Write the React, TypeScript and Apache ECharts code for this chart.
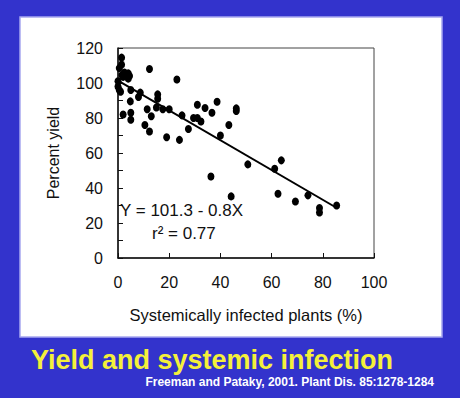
import React, { useEffect, useRef } from "react";
import * as echarts from "echarts";

const xTicks = [0, 20, 40, 60, 80, 100];
const yTicks = [0, 20, 40, 60, 80, 100, 120];

const infected: number[] = [
  0, 0, 0.5, 1, 1.4, 1.4, 0.5, 2.5, 4, 4.5, 2, 4, 1.5,
  5, 4.8, 8.7, 8, 12.3, 23, 15.5, 15.5, 2, 5, 5, 11.4, 15, 13, 17.5, 20,
  10.5, 12.3, 19, 24, 25, 27.5, 29.5, 31, 32.4, 31, 34, 36.7, 38.7, 40,
  43.3, 46.2, 46.2, 50.7, 36.3, 44.2, 61.2, 63.8, 62.5, 69.3, 74.2, 78.7, 78.7, 85.4,
];
const yieldPct: number[] = [
  101, 98, 96, 95, 114.5, 110.5, 108.5, 106, 105.5, 104, 103.5, 102.5, 104.5,
  96, 89.5, 94.5, 92, 108, 102, 93.5, 91, 82, 83, 79, 85, 86, 81, 85, 85,
  76, 72.3, 69, 67.5, 81.5, 73.7, 80, 80, 78, 87.6, 85.7, 83, 89.3, 70,
  76, 84, 85.5, 53.5, 46.6, 35.2, 51, 55.8, 36.7, 32.3, 35.8, 28.6, 26, 30,
];
const fitX = [0, 85];
const fitY = [101.3, 29];

const title = "Yield and systemic infection";
const citation = "Freeman and Pataky, 2001. Plant Dis. 85:1278-1284";
const equation = "Y = 101.3 - 0.8X";
const rSquared = "r\u00B2 = 0.77";

const FONT = "Arial, 'Liberation Sans', sans-serif";

export default function App() {
  const ref = useRef<HTMLDivElement>(null);
  useEffect(() => {
    if (!ref.current) return;
    const chart = echarts.init(ref.current, null, { renderer: "svg" });
    const points = infected.map((x, i) => [x, yieldPct[i]]);
    const fit = fitX.map((x, i) => [x, fitY[i]]);
    chart.setOption({
      animation: false,
      backgroundColor: "#3333CC",
      textStyle: { fontFamily: FONT },
      graphic: [
        {
          type: "rect",
          z: -10,
          shape: { x: 20, y: 17, width: 422, height: 320 },
          style: { fill: "#ffffff", stroke: "#a8a8f0", lineWidth: 1.5 },
        },
        {
          type: "text",
          x: 120,
          y: 210,
          style: {
            text: equation,
            fill: "#111",
            font: `17px ${FONT}`,
            verticalAlign: "middle",
          },
        },
        {
          type: "text",
          x: 152,
          y: 233,
          style: {
            text: rSquared,
            fill: "#111",
            font: `17px ${FONT}`,
            verticalAlign: "middle",
          },
        },
        {
          type: "text",
          x: 31,
          y: 360,
          style: {
            text: title,
            fill: "#F4F03A",
            font: `bold 27px ${FONT}`,
            verticalAlign: "middle",
            textShadowColor: "#202060",
            textShadowBlur: 0,
            textShadowOffsetX: 1,
            textShadowOffsetY: 1,
          },
        },
        {
          type: "text",
          x: 434,
          y: 382,
          style: {
            text: citation,
            fill: "#ffffff",
            font: `bold 12px ${FONT}`,
            align: "right",
            verticalAlign: "middle",
          },
        },
      ],
      grid: {
        left: 118,
        top: 48,
        width: 256,
        height: 210,
        show: true,
        borderColor: "#444",
        borderWidth: 1,
        backgroundColor: "transparent",
      },
      xAxis: {
        type: "value",
        min: xTicks[0],
        max: xTicks[xTicks.length - 1],
        interval: 20,
        name: "Systemically infected plants (%)",
        nameLocation: "middle",
        nameGap: 48,
        nameTextStyle: { fontSize: 16.5, color: "#111" },
        axisLine: { show: true, lineStyle: { color: "#111", width: 1.5 } },
        axisTick: { show: true, inside: true, length: 5, lineStyle: { color: "#111" } },
        axisLabel: { fontSize: 16, color: "#111", margin: 16 },
        splitLine: { show: false },
      },
      yAxis: {
        type: "value",
        min: yTicks[0],
        max: yTicks[yTicks.length - 1],
        interval: 10,
        name: "Percent yield",
        nameLocation: "middle",
        nameGap: 57,
        nameTextStyle: { fontSize: 16, color: "#111" },
        axisLine: { show: true, lineStyle: { color: "#111", width: 1.5 } },
        axisTick: { show: true, inside: true, length: 5, lineStyle: { color: "#111" } },
        axisLabel: {
          fontSize: 16,
          color: "#111",
          margin: 15,
          formatter: (v: number) => (yTicks.includes(v) ? String(v) : ""),
        },
        splitLine: { show: false },
      },
      series: [
        {
          type: "line",
          data: fit,
          showSymbol: false,
          symbol: "none",
          lineStyle: { color: "#000", width: 2 },
          z: 2,
        },
        {
          type: "scatter",
          data: points,
          symbol: "circle",
          symbolSize: [7, 8],
          itemStyle: { color: "#000", opacity: 1 },
          z: 3,
        },
      ],
    });
    return () => chart.dispose();
  }, []);
  return (
    <div
      ref={ref}
      style={{ position: "fixed", left: 0, top: 0, width: 460, height: 398 }}
    />
  );
}
